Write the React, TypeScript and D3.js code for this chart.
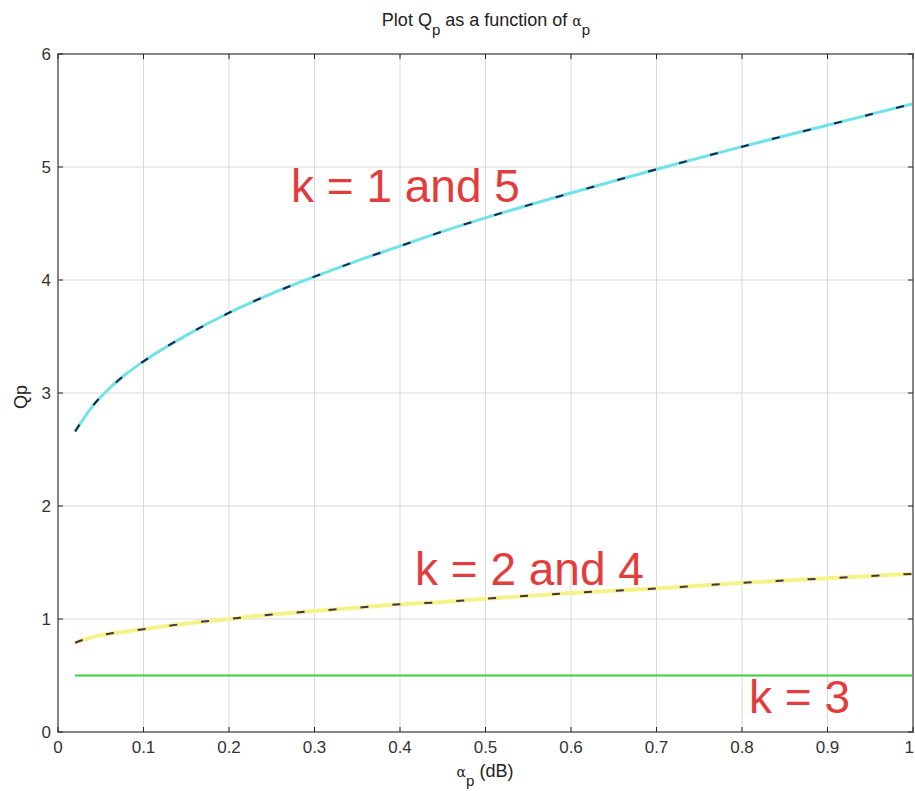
import React from 'react';
import * as d3 from 'd3';

// ripple alpha_p (dB) and the pole Q
const alphaP = [0.02, 0.04, 0.06, 0.08, 0.1, 0.15, 0.2, 0.25, 0.3, 0.35, 0.4, 0.45, 0.5, 0.6, 0.7, 0.8, 0.9, 1.0];
const qK15 = [2.66, 2.88, 3.04, 3.17, 3.28, 3.51, 3.71, 3.88, 4.03, 4.17, 4.3, 4.43, 4.55, 4.77, 4.98, 5.18, 5.37, 5.56];
const qK24 = [0.79, 0.84, 0.87, 0.89, 0.91, 0.96, 1.0, 1.04, 1.07, 1.1, 1.13, 1.15, 1.18, 1.23, 1.27, 1.32, 1.36, 1.4];
const qK3 = [0.5, 0.5, 0.5, 0.5, 0.5, 0.5, 0.5, 0.5, 0.5, 0.5, 0.5, 0.5, 0.5, 0.5, 0.5, 0.5, 0.5, 0.5];

const xTicks = [0, 0.1, 0.2, 0.3, 0.4, 0.5, 0.6, 0.7, 0.8, 0.9, 1];
const xTickLabels = ['0', '0.1', '0.2', '0.3', '0.4', '0.5', '0.6', '0.7', '0.8', '0.9', '1'];
const yTicks = [0, 1, 2, 3, 4, 5, 6];

const width = 915;
const height = 791;
const margin = { top: 54, right: 2, bottom: 59, left: 58 };
const font = "'Liberation Sans', Arial, sans-serif";

const App = () => {
  const x = d3.scaleLinear().domain([0, 1]).range([margin.left, width - margin.right]);
  const y = d3.scaleLinear().domain([0, 6]).range([height - margin.bottom, margin.top]);

  const line = (ys: number[]) =>
    d3.line<number>()
      .x((d, i) => x(alphaP[i]))
      .y(d => y(d))
      .curve(d3.curveMonotoneX)(ys) || '';

  const x0 = x(0), x1 = x(1), y0 = y(0), y1 = y(6);

  return (
    <svg width={width} height={height} style={{ position: 'absolute', left: 0, top: 0, background: '#fff' }}>
      {/* grid */}
      <g stroke="#d9d9d9" strokeWidth={1}>
        {xTicks.map(t => <line key={'gx' + t} x1={x(t)} x2={x(t)} y1={y0} y2={y1} />)}
        {yTicks.map(t => <line key={'gy' + t} x1={x0} x2={x1} y1={y(t)} y2={y(t)} />)}
      </g>

      {/* curves */}
      <path d={line(qK15)} fill="none" stroke="#6fe3e6" strokeWidth={3} />
      <path d={line(qK15)} fill="none" stroke="#1c2450" strokeWidth={2} strokeDasharray="8 24" />
      <path d={line(qK24)} fill="none" stroke="#f3f38a" strokeWidth={4} />
      <path d={line(qK24)} fill="none" stroke="#4a2f4a" strokeWidth={2} strokeDasharray="8 24" />
      <path d={line(qK3)} fill="none" stroke="#3bd03b" strokeWidth={2} />

      {/* axes box and ticks */}
      <rect x={x0} y={y1} width={x1 - x0} height={y0 - y1} fill="none" stroke="#858585" strokeWidth={2} />
      <g stroke="#222" strokeWidth={1}>
        {xTicks.map(t => (
          <g key={'tx' + t}>
            <line x1={x(t)} x2={x(t)} y1={y0} y2={y0 - 5} />
            <line x1={x(t)} x2={x(t)} y1={y1} y2={y1 + 5} />
          </g>
        ))}
        {yTicks.map(t => (
          <g key={'ty' + t}>
            <line x1={x0} x2={x0 + 5} y1={y(t)} y2={y(t)} />
            <line x1={x1} x2={x1 - 5} y1={y(t)} y2={y(t)} />
          </g>
        ))}
      </g>

      {/* tick labels */}
      <g fontFamily={font} fontSize={17} fill="#333">
        {xTicks.map((t, i) => (
          <text key={'lx' + t} x={i === xTicks.length - 1 ? x(t) + 1 : x(t)} y={y0 + 21}
            textAnchor={i === xTicks.length - 1 ? 'end' : 'middle'}>{xTickLabels[i]}</text>
        ))}
        {yTicks.map(t => (
          <text key={'ly' + t} x={x0 - 7} y={y(t) + 6} textAnchor="end">{t}</text>
        ))}
      </g>

      {/* title and axis labels */}
      <text x={486} y={26} textAnchor="middle" fontFamily={font} fontSize={18} fill="#222">
        Plot Q<tspan fontSize={15} dy={9}>p</tspan>
        <tspan dy={-9}>  as a function of  </tspan>
        <tspan fontFamily="'DejaVu Serif', serif" fontSize={14}>α</tspan>
        <tspan fontSize={15} dy={9}>p</tspan>
      </text>
      <text x={485} y={777} textAnchor="middle" fontFamily={font} fontSize={18} fill="#222">
        <tspan fontFamily="'DejaVu Serif', serif" fontSize={14}>α</tspan>
        <tspan fontSize={15} dy={9}>p</tspan>
        <tspan dy={-9}> (dB)</tspan>
      </text>
      <text transform="translate(27,397) rotate(-90)" textAnchor="middle" fontFamily={font} fontSize={18} fill="#222">Qp</text>

      {/* annotations */}
      <g fontFamily={font} fontSize={46} fill="#e23c3c">
        <text x={291} y={202}>k = 1 and 5</text>
        <text x={415} y={585}>k = 2 and 4</text>
        <text x={749} y={713}>k = 3</text>
      </g>
    </svg>
  );
};

export default App;
